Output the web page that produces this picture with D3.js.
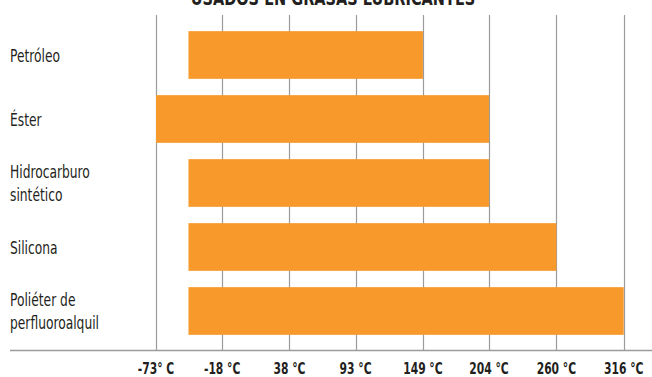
<!DOCTYPE html>
<html>
<head>
<meta charset="utf-8">
<script src="https://cdn.jsdelivr.net/npm/d3@7/dist/d3.min.js"></script>
<style>
  html, body { margin: 0; padding: 0; background: #fff; }
  svg { display: block; }
  text { font-family: "DejaVu Sans Condensed", "DejaVu Sans", sans-serif; }
</style>
</head>
<body>
<svg id="chart" width="652" height="377"></svg>
<script>
// Temperature ranges of base oils used in lubricating greases (°C)
const categories = [
  ["Petróleo"],
  ["Éster"],
  ["Hidrocarburo", "sintético"],
  ["Silicona"],
  ["Poliéter de", "perfluoroalquil"]
];
const minTemps = [-46, -73, -46, -46, -46];
const maxTemps = [149, 204, 204, 260, 316];
const tickValues = [-73, -18, 38, 93, 149, 204, 260, 316];
const tickLabels = ["-73° C", "-18 °C", "38 °C", "93 °C", "149 °C", "204 °C", "260 °C", "316 °C"];
const title = "USADOS EN GRASAS LUBRICANTES";

const rows = categories.map((c, i) => ({ key: c.join(" "), lines: c, min: minTemps[i], max: maxTemps[i] }));

const svg = d3.select("#chart");
const W = 652;
const axisY = 350.5;
const ink = "#231f20";
const grey = "#9b9b9b";

const x = d3.scaleLinear().domain([-73, 316]).range([156, 623.7]);
const y = d3.scaleBand()
  .domain(rows.map(d => d.key))
  .range([23, 343])
  .paddingInner(0.255)
  .paddingOuter(0.1275);

// Title (runs partly above the top edge); narrowed to a condensed look
svg.append("text")
  .attr("transform", "translate(333,5) scale(0.85,1)")
  .attr("text-anchor", "middle")
  .attr("font-size", 19).attr("font-weight", "bold")
  .attr("fill", ink)
  .text(title);

// Vertical gridlines
svg.append("g")
  .selectAll("line")
  .data(tickValues)
  .join("line")
  .attr("x1", d => Math.round(x(d)) + 0.5).attr("x2", d => Math.round(x(d)) + 0.5)
  .attr("y1", 15).attr("y2", axisY)
  .attr("stroke", grey).attr("stroke-width", 1.2);

// Range bars
svg.append("g")
  .selectAll("rect")
  .data(rows)
  .join("rect")
  .attr("x", d => x(d.min))
  .attr("width", d => x(d.max) - x(d.min))
  .attr("y", d => y(d.key))
  .attr("height", y.bandwidth())
  .attr("fill", "#f7992b");

// Baseline
svg.append("line")
  .attr("x1", 10).attr("x2", W)
  .attr("y1", axisY).attr("y2", axisY)
  .attr("stroke", grey).attr("stroke-width", 1.5);

// Tick labels
svg.append("g")
  .selectAll("text")
  .data(tickValues)
  .join("text")
  .attr("transform", d => `translate(${x(d)},373.5) scale(0.77,1)`)
  .attr("text-anchor", "middle")
  .attr("font-size", 15.5).attr("font-weight", "bold")
  .attr("fill", ink)
  .text((d, i) => tickLabels[i]);

// Category labels
const lab = svg.append("g")
  .attr("transform", "translate(10,0) scale(0.78,1)")
  .selectAll("text")
  .data(rows)
  .join("text")
  .attr("x", 0)
  .attr("font-size", 17.5)
  .attr("fill", ink)
  .attr("y", d => y(d.key) + y.bandwidth() / 2 + 7 - (d.lines.length - 1) * 11.5);
lab.selectAll("tspan")
  .data(d => d.lines)
  .join("tspan")
  .attr("x", 0)
  .attr("dy", (d, i) => i === 0 ? 0 : 23)
  .text(d => d);
</script>
</body>
</html>
